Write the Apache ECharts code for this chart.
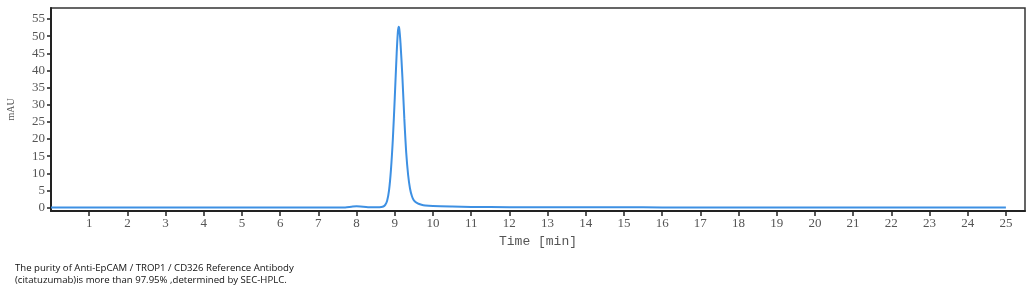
<!DOCTYPE html>
<html><head><meta charset="utf-8">
<script src="https://cdn.jsdelivr.net/npm/echarts@6/dist/echarts.min.js"></script>
<style>html,body{margin:0;padding:0;background:#fff}#c{width:1036px;height:293px}</style>
</head><body><div id="c"></div>
<script>
const timeMin = [0, 1, 2, 3, 4, 5, 6, 7, 7.5, 7.7, 7.9, 8.0, 8.1, 8.3, 8.6, 8.7, 8.75, 8.8, 8.85, 8.9, 8.95, 9.0, 9.05, 9.08, 9.1, 9.12, 9.15, 9.2, 9.25, 9.3, 9.35, 9.4, 9.45, 9.5, 9.6, 9.7, 9.8, 10, 10.5, 11, 12, 13, 14, 15, 16, 18, 20, 22, 24, 25];
const mAU = [0, 0, 0, 0, 0, 0, 0, 0, 0, 0.05, 0.3, 0.35, 0.3, 0.1, 0.1, 0.3, 0.8, 2, 5, 11, 20, 32, 45, 51, 52.7, 52, 48, 38, 26, 16, 9.5, 5.5, 3.3, 2.1, 1.2, 0.8, 0.6, 0.45, 0.3, 0.2, 0.1, 0.1, 0.1, 0.1, 0.05, 0.05, 0.05, 0.05, 0.05, 0.05];
const xTicks = [1,2,3,4,5,6,7,8,9,10,11,12,13,14,15,16,17,18,19,20,21,22,23,24,25];
const yTicks = [0,5,10,15,20,25,30,35,40,45,50,55];
const caption = ['The purity of Anti-EpCAM / TROP1 / CD326 Reference Antibody', '(citatuzumab)is more than 97.95% ,determined by SEC-HPLC.'];

const chart = echarts.init(document.getElementById('c'), null, {renderer: 'canvas'});
const tickFont = {fontFamily: 'Liberation Serif', fontSize: 13, color: '#555'};
chart.setOption({
  animation: false,
  grid: {left: 51, right: 11, top: 8, bottom: 82, show: true, borderColor: '#333', borderWidth: 1.5, outerBoundsMode: 'none', containLabel: false},
  xAxis: {
    type: 'value', min: 0, max: 25.5,
    name: 'Time [min]', nameLocation: 'middle', nameGap: 21,
    nameTextStyle: {fontFamily: 'Liberation Mono', fontSize: 13, color: '#555'},
    axisLine: {show: true, onZero: false, lineStyle: {color: '#222', width: 2}},
    axisTick: {show: true, length: 5, customValues: xTicks, lineStyle: {color: '#222', width: 1.5}},
    axisLabel: Object.assign({customValues: xTicks, margin: 6}, tickFont),
    splitLine: {show: false}
  },
  yAxis: {
    type: 'value', min: -1, max: 58.2,
    name: 'mAU', nameLocation: 'middle', nameGap: 35, nameRotate: 90,
    nameTextStyle: {fontFamily: 'Liberation Serif', fontSize: 10, color: '#555'},
    axisLine: {show: true, lineStyle: {color: '#222', width: 2}},
    axisTick: {show: true, length: 4, customValues: yTicks, lineStyle: {color: '#222', width: 1.5}},
    axisLabel: Object.assign({customValues: yTicks, margin: 6}, tickFont),
    splitLine: {show: false}
  },
  series: [{
    type: 'line', data: timeMin.map((t, i) => [t, mAU[i]]),
    showSymbol: false, smooth: 0.3,
    lineStyle: {color: '#3d90e3', width: 2}
  }],
  graphic: [{
    type: 'text', left: 15, top: 262,
    style: {text: caption.join('\n'), font: '9.6px "Open Sans"', fill: '#111', lineHeight: 12}
  }]
});
</script></body></html>
